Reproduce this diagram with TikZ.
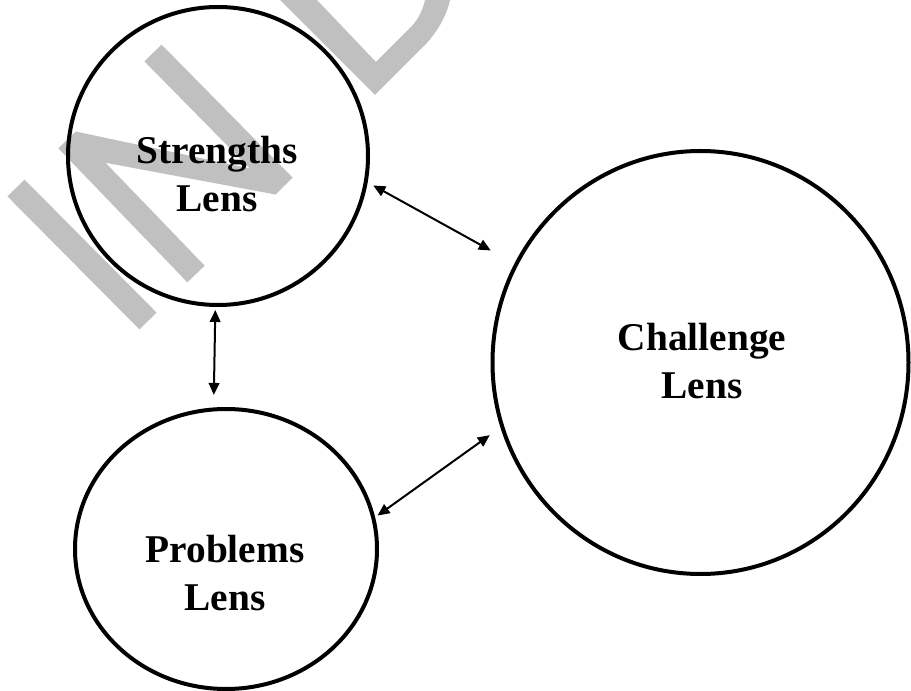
\documentclass[tikz,border=0pt]{standalone}
\usepackage{fontspec}
\setmainfont{Liberation Serif}
\usetikzlibrary{shapes,arrows.meta,positioning,calc}
\definecolor{markgray}{HTML}{C0C0C0}
\tikzset{
  lens/.style={ellipse, draw, line width=3pt, inner sep=0pt},
  lenstext/.style={align=center, font=\fontsize{29.5}{36}\selectfont\bfseries},
  link/.style={{Triangle[length=9pt,width=8pt]}-{Triangle[length=9pt,width=8pt]}, line width=1.5pt}
}

\begin{document}
\begin{tikzpicture}[x=0.75pt,y=-0.75pt]
\useasboundingbox (0,0) rectangle (911,691);
\draw[markgray, line width=18pt] (16,188) -- (148,321);
\draw[markgray, line width=18pt] (67,140) -- (196,274);
\draw[markgray, line width=18pt] (153,53) -- (284,186);
\fill[markgray] (75.5,131.5) -- (292.5,177.5) -- (275.5,194.5) -- (80,158) -- cycle;
\fill[markgray] (280,0) -- (375,95) -- (423,47) .. controls (437,33) and (447,15) .. (450,0)
  -- (425,0) .. controls (423,10) and (418,20) .. (410,28) -- (376,62) -- (317,0) -- cycle;

\node[lens, minimum width=225pt, minimum height=223.5pt] (strengths) at (218,156) {};
\node[lens, minimum width=312pt, minimum height=317.25pt] (challenge) at (700.5,362.5) {};
\node[lens, minimum width=226.5pt, minimum height=210pt] (problems) at (226,549) {};

\node[lenstext] (strengthsLabel) at ($(strengths)+(-1,18)$) {Strengths\\Lens};
\node[lenstext] (challengeLabel) at ($(challenge)+(1.5,-1.5)$) {Challenge\\Lens};
\node[lenstext] (problemsLabel) at ($(problems)+(-1,24)$) {Problems\\Lens};

\foreach \from/\to/\s/\e in {strengths.-10.6/challenge.152.5/4.8pt/20.3pt,
    strengths.-91.9/problems.95.2/2.25pt/9.4pt,
    problems.12.3/challenge.198.7/2.25pt/9.9pt}
  \draw[link, shorten <=\s, shorten >=\e] (\from) -- (\to);
\end{tikzpicture}
\end{document}
